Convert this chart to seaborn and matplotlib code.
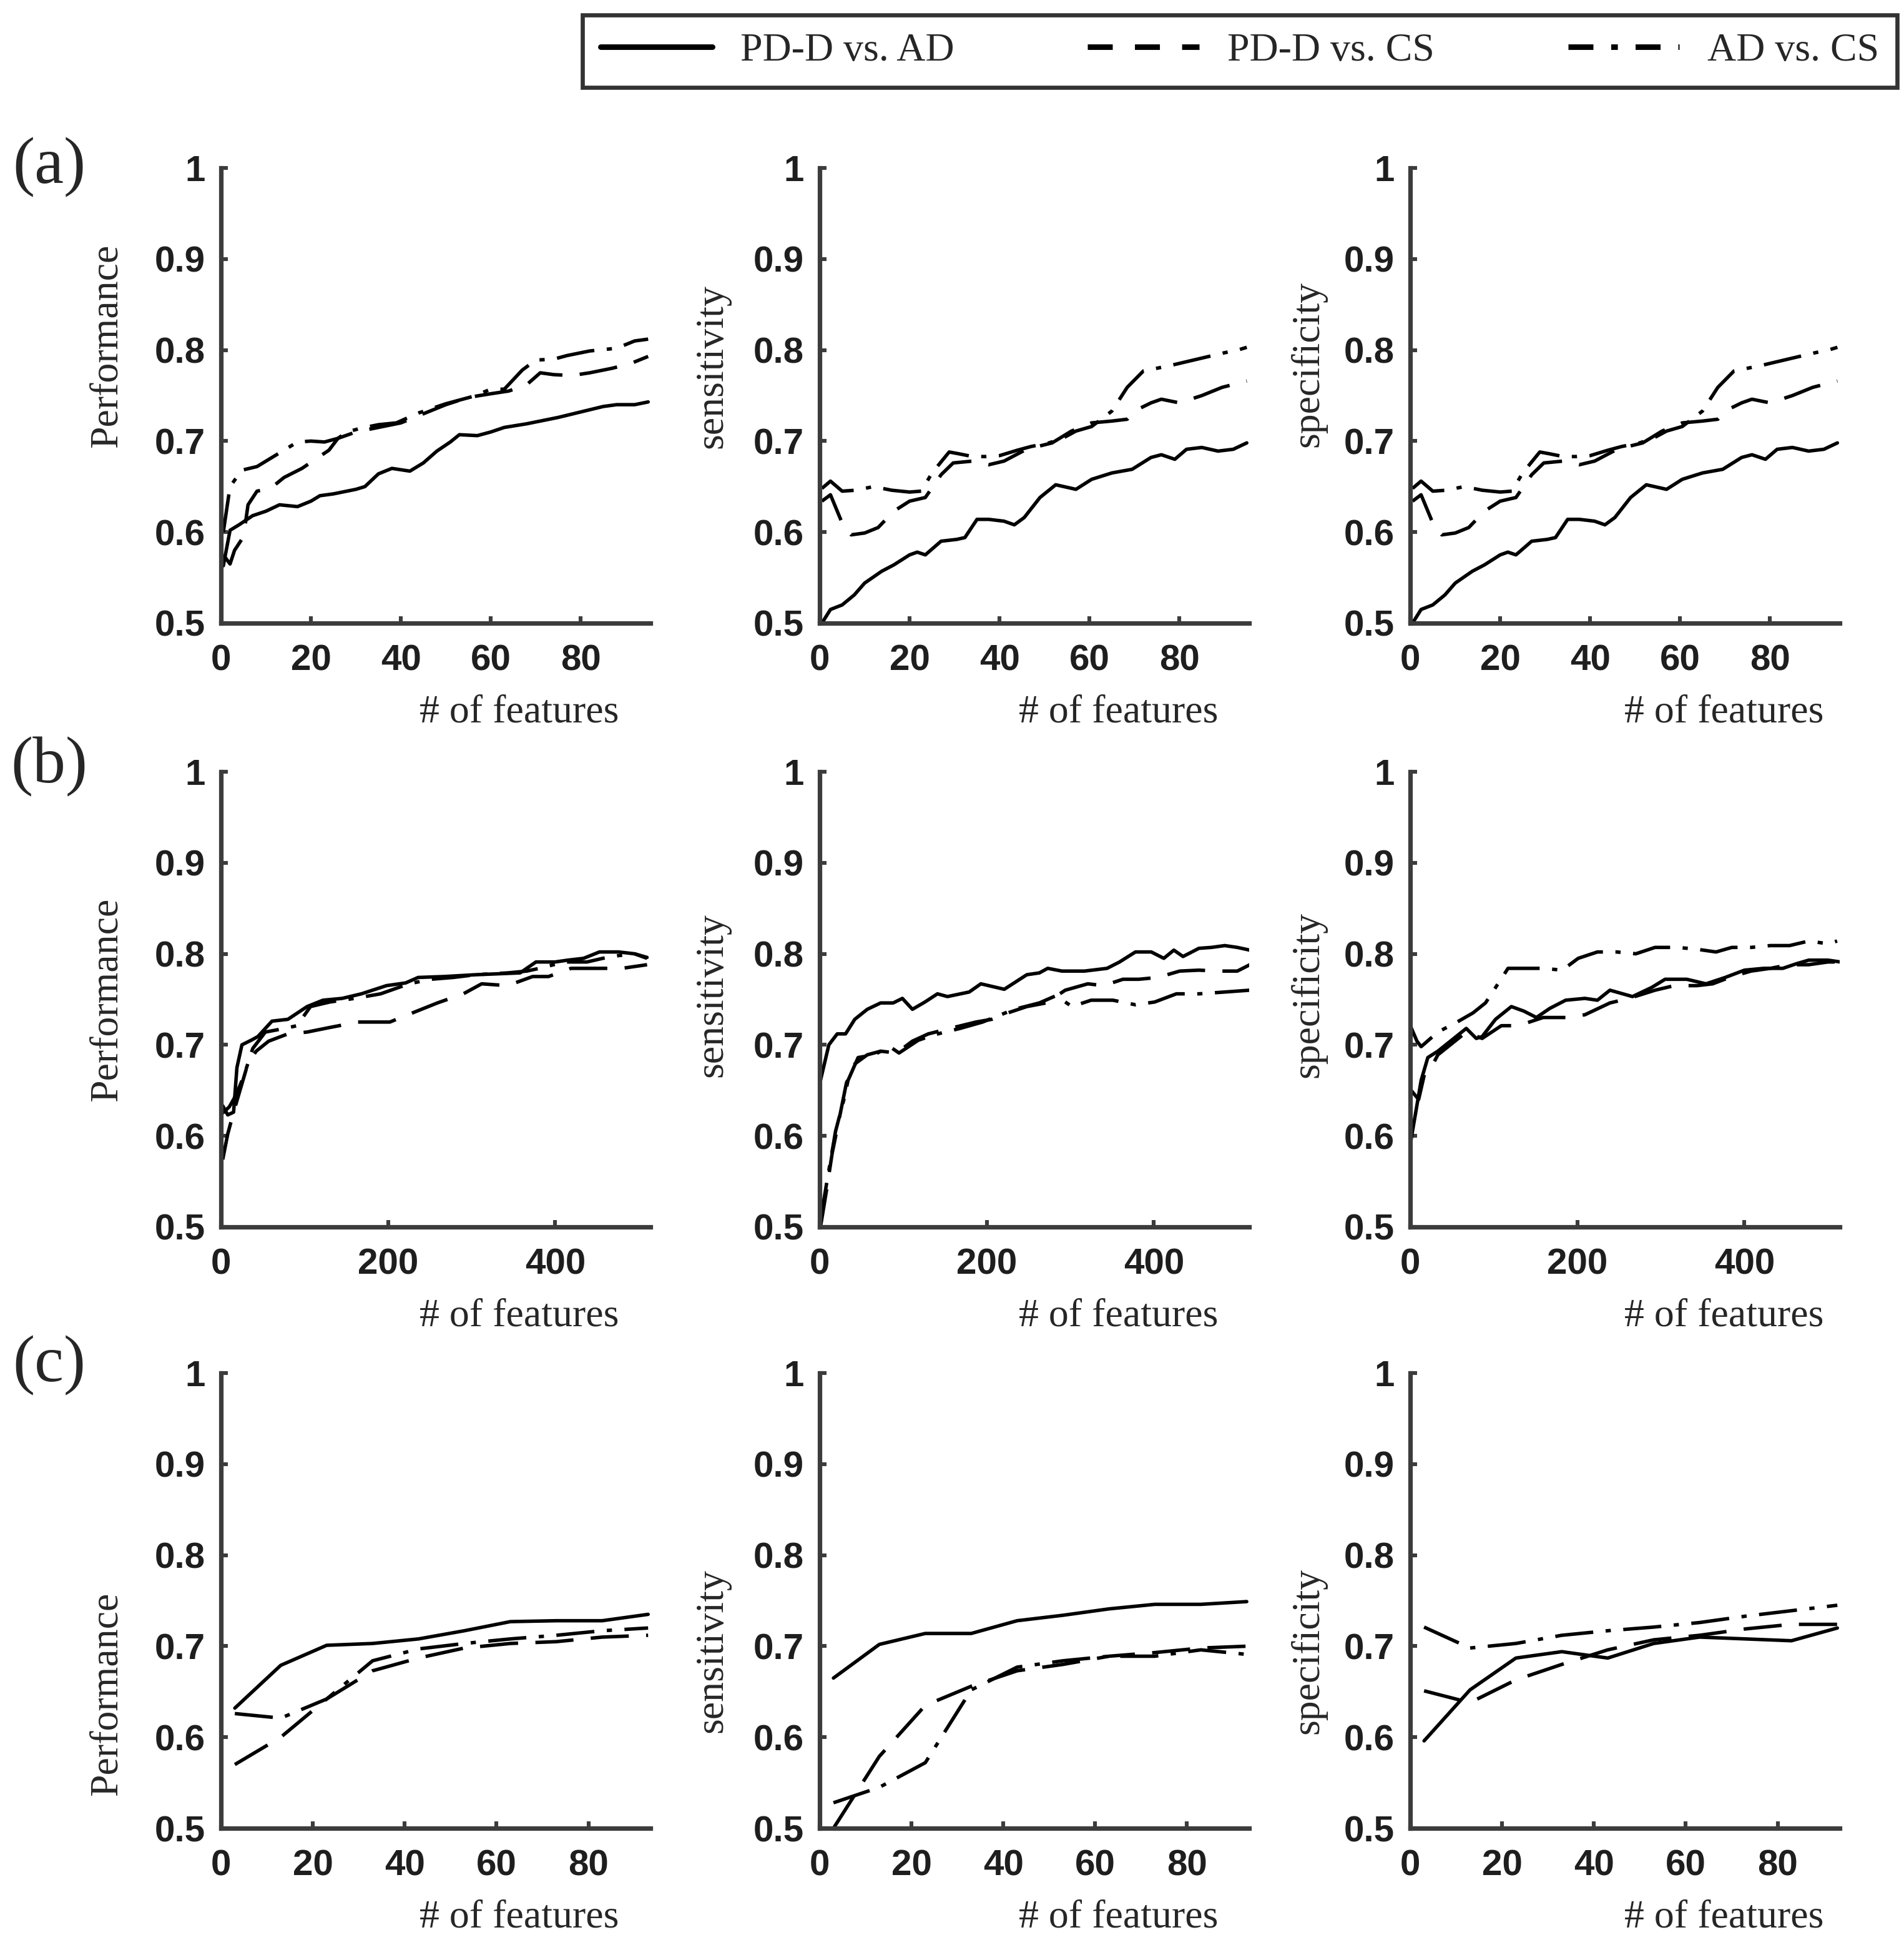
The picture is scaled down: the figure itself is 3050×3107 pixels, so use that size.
import matplotlib
matplotlib.use("Agg")
import matplotlib.pyplot as plt
from matplotlib.lines import Line2D
import pandas as pd
import seaborn as sns

PAIRS = ["PD-D vs. AD", "PD-D vs. CS", "AD vs. CS"]
METRICS = ["Performance", "sensitivity", "specificity"]

# -------------------------
# (a) values
# -------------------------
A_PERF_AD_X = [0.5, 2, 4, 7, 10, 13, 17, 20, 22, 25, 30, 32, 35, 38, 42, 45, 48, 51, 53, 57,
               60, 63, 68, 72, 75, 80, 85, 88, 92, 95]
A_PERF_AD_Y = [0.563, 0.602, 0.608, 0.618, 0.623, 0.630, 0.628, 0.634, 0.640, 0.642, 0.647,
               0.650, 0.664, 0.670, 0.667, 0.676, 0.689, 0.699, 0.707, 0.706, 0.710, 0.715,
               0.719, 0.723, 0.726, 0.732, 0.738, 0.740, 0.740, 0.743]
A_PERF_CS_X = [0.5, 2, 3, 5, 6, 8, 11, 14, 18, 21, 24, 26, 30, 35, 40, 45, 50, 55, 60, 64,
               68, 71, 74, 78, 82, 87, 91, 95]
A_PERF_CS_Y = [0.575, 0.565, 0.580, 0.595, 0.630, 0.645, 0.648, 0.660, 0.670, 0.680, 0.690,
               0.703, 0.710, 0.715, 0.720, 0.730, 0.740, 0.748, 0.752, 0.755, 0.762, 0.775,
               0.773, 0.772, 0.775, 0.780, 0.785, 0.793]
A_PERF_ADCS_X = [0.5, 2, 4.6, 8, 11, 14, 17, 20, 23, 26, 28, 31, 35, 39, 44, 50, 56, 60, 63,
                 67, 70, 74, 77, 82, 88, 92, 95]
A_PERF_ADCS_Y = [0.600, 0.650, 0.668, 0.672, 0.681, 0.690, 0.699, 0.700, 0.699, 0.703, 0.710,
                 0.714, 0.718, 0.720, 0.731, 0.741, 0.749, 0.757, 0.757, 0.778, 0.789, 0.790,
                 0.794, 0.799, 0.802, 0.810, 0.812]

A_SENS_AD_X = [0.5, 2.4, 5, 7.7, 10, 13.8, 16.5, 20, 21.7, 23.5, 27, 30.5, 32.3, 35, 37.6, 41,
               43.3, 45.5, 49, 52.5, 57, 60.5, 65, 69.5, 73.7, 76, 79, 81.6, 85, 88.6, 92, 95]
A_SENS_AD_Y = [0.500, 0.515, 0.520, 0.531, 0.544, 0.557, 0.564, 0.575, 0.578, 0.575, 0.590,
               0.592, 0.594, 0.614, 0.614, 0.612, 0.608, 0.616, 0.638, 0.652, 0.647, 0.658,
               0.665, 0.669, 0.682, 0.685, 0.680, 0.691, 0.693, 0.689, 0.691, 0.698]
A_SENS_CS_X = [0.5, 2.4, 5, 7, 10, 13, 16.5, 20, 23.5, 27, 29.7, 34, 37.6, 41, 46, 51.7, 56,
               60.5, 65, 68.4, 70, 73.7, 76, 80, 85, 89.5, 95]
A_SENS_CS_Y = [0.634, 0.641, 0.610, 0.597, 0.599, 0.605, 0.623, 0.634, 0.638, 0.663, 0.676,
               0.678, 0.674, 0.678, 0.691, 0.698, 0.711, 0.720, 0.722, 0.724, 0.733, 0.742,
               0.746, 0.742, 0.750, 0.759, 0.766]
A_SENS_ADCS_X = [0.5, 2.4, 5, 8, 12, 16, 20, 22.6, 25, 28.8, 31, 34, 37, 40, 44, 47, 51, 54,
                 57, 60.5, 65, 68.4, 72, 78, 84, 90, 93, 95]
A_SENS_ADCS_Y = [0.648, 0.656, 0.645, 0.646, 0.650, 0.646, 0.644, 0.645, 0.665, 0.688, 0.686,
                 0.683, 0.683, 0.684, 0.690, 0.694, 0.698, 0.703, 0.711, 0.716, 0.733, 0.759,
                 0.777, 0.783, 0.790, 0.797, 0.800, 0.803]

# specificity in (a) follows the same curves as sensitivity
A_SPEC_AD_X, A_SPEC_AD_Y = A_SENS_AD_X, A_SENS_AD_Y
A_SPEC_CS_X, A_SPEC_CS_Y = A_SENS_CS_X, A_SENS_CS_Y
A_SPEC_ADCS_X, A_SPEC_ADCS_Y = A_SENS_ADCS_X, A_SENS_ADCS_Y

# -------------------------
# (b)
# -------------------------
B_PERF_AD_X = [2, 8, 15, 19, 25, 36, 44, 61, 80, 103, 122, 145, 168, 198, 221, 236, 267, 305,
               358, 377, 400, 415, 434, 453, 476, 495, 510]
B_PERF_AD_Y = [0.633, 0.623, 0.626, 0.675, 0.700, 0.705, 0.709, 0.726, 0.728, 0.742, 0.749,
               0.751, 0.756, 0.765, 0.768, 0.774, 0.775, 0.777, 0.779, 0.791, 0.791, 0.793,
               0.795, 0.802, 0.802, 0.800, 0.796]
B_PERF_CS_X = [2, 8, 15, 23, 32, 42, 57, 80, 103, 130, 164, 202, 229, 259, 290, 312, 343, 373,
               392, 419, 450, 480, 510]
B_PERF_CS_Y = [0.574, 0.602, 0.626, 0.651, 0.679, 0.693, 0.704, 0.712, 0.714, 0.719, 0.725,
               0.725, 0.735, 0.746, 0.756, 0.767, 0.765, 0.775, 0.775, 0.784, 0.784, 0.784,
               0.788]
B_PERF_ADCS_X = [2, 10, 18, 27, 38, 53, 76, 91, 107, 130, 160, 191, 225, 251, 278, 305, 343,
                 366, 381, 411, 438, 457, 476, 495, 510]
B_PERF_ADCS_Y = [0.625, 0.632, 0.645, 0.665, 0.696, 0.714, 0.718, 0.721, 0.742, 0.747, 0.751,
                 0.756, 0.767, 0.772, 0.774, 0.777, 0.779, 0.781, 0.784, 0.791, 0.791, 0.795,
                 0.798, 0.800, 0.795]

B_SENS_AD_X = [1, 11, 21, 31, 42, 57, 73, 88, 99, 111, 126, 141, 153, 179, 193, 221, 248, 263,
               273, 290, 317, 344, 359, 378, 397, 412, 424, 435, 454, 469, 485, 500, 515]
B_SENS_AD_Y = [0.661, 0.700, 0.712, 0.712, 0.728, 0.739, 0.746, 0.746, 0.751, 0.739, 0.747,
               0.756, 0.753, 0.758, 0.767, 0.761, 0.777, 0.779, 0.784, 0.781, 0.781, 0.784,
               0.791, 0.802, 0.802, 0.795, 0.804, 0.797, 0.806, 0.807, 0.809, 0.807, 0.804]
B_SENS_CS_X = [1, 8, 15, 25, 32, 42, 57, 73, 92, 111, 130, 156, 187, 206, 225, 248, 271, 294,
               321, 340, 363, 382, 405, 431, 454, 477, 500, 515]
B_SENS_CS_Y = [0.500, 0.539, 0.581, 0.626, 0.658, 0.679, 0.689, 0.693, 0.691, 0.704, 0.712,
               0.718, 0.725, 0.728, 0.735, 0.742, 0.746, 0.760, 0.767, 0.765, 0.772, 0.772,
               0.774, 0.781, 0.782, 0.781, 0.781, 0.788]
B_SENS_ADCS_X = [1, 8, 19, 29, 34, 46, 65, 84, 95, 118, 137, 168, 195, 233, 263, 283, 302, 325,
                 351, 378, 401, 427, 454, 485, 515]
B_SENS_ADCS_Y = [0.507, 0.546, 0.605, 0.640, 0.661, 0.686, 0.689, 0.698, 0.691, 0.705, 0.711,
                 0.718, 0.725, 0.739, 0.746, 0.754, 0.742, 0.749, 0.749, 0.744, 0.747, 0.756,
                 0.756, 0.758, 0.760]

B_SPEC_AD_X = [0, 6, 13, 21, 33, 48, 67, 79, 86, 102, 121, 136, 151, 167, 186, 209, 224, 239,
               266, 289, 305, 331, 354, 377, 400, 423, 446, 462, 477, 500, 515]
B_SPEC_AD_Y = [0.591, 0.623, 0.661, 0.686, 0.693, 0.704, 0.718, 0.707, 0.709, 0.728, 0.742,
               0.737, 0.730, 0.740, 0.749, 0.751, 0.749, 0.760, 0.753, 0.763, 0.772, 0.772,
               0.767, 0.774, 0.782, 0.784, 0.784, 0.789, 0.793, 0.793, 0.791]
B_SPEC_CS_X = [0, 10, 17, 25, 33, 48, 67, 86, 109, 125, 136, 159, 186, 209, 239, 262, 293, 316,
               343, 362, 385, 408, 431, 454, 477, 500, 515]
B_SPEC_CS_Y = [0.651, 0.640, 0.668, 0.675, 0.689, 0.700, 0.714, 0.707, 0.721, 0.721, 0.723,
               0.730, 0.730, 0.733, 0.746, 0.751, 0.760, 0.765, 0.765, 0.767, 0.775, 0.781,
               0.784, 0.788, 0.788, 0.791, 0.791]
B_SPEC_ADCS_X = [0, 8, 13, 33, 56, 75, 90, 105, 117, 140, 159, 182, 201, 224, 247, 270, 293,
                 320, 343, 366, 385, 408, 431, 454, 477, 500, 511]
B_SPEC_ADCS_Y = [0.721, 0.704, 0.698, 0.714, 0.725, 0.735, 0.746, 0.767, 0.784, 0.784, 0.784,
                 0.782, 0.795, 0.802, 0.802, 0.800, 0.807, 0.807, 0.805, 0.802, 0.807, 0.807,
                 0.809, 0.809, 0.814, 0.811, 0.814]

# -------------------------
# (c)
# -------------------------
C_X = [3, 13, 23, 33, 43, 53, 63, 73, 83, 93]
C_PERF_AD_Y = [0.632, 0.679, 0.701, 0.703, 0.708, 0.717, 0.727, 0.728, 0.728, 0.735]
C_PERF_CS_Y = [0.570, 0.600, 0.642, 0.673, 0.687, 0.698, 0.703, 0.705, 0.710, 0.712]
C_PERF_ADCS_Y = [0.626, 0.621, 0.642, 0.684, 0.697, 0.703, 0.708, 0.712, 0.717, 0.720]
C_SENS_AD_Y = [0.665, 0.702, 0.714, 0.714, 0.728, 0.734, 0.741, 0.746, 0.746, 0.749]
C_SENS_CS_Y = [0.500, 0.579, 0.635, 0.656, 0.673, 0.680, 0.689, 0.693, 0.698, 0.700]
C_SENS_ADCS_Y = [0.528, 0.545, 0.572, 0.652, 0.677, 0.684, 0.689, 0.689, 0.696, 0.691]
C_SPEC_AD_Y = [0.596, 0.652, 0.687, 0.694, 0.687, 0.703, 0.710, 0.708, 0.706, 0.720]
C_SPEC_CS_Y = [0.651, 0.638, 0.663, 0.680, 0.696, 0.707, 0.712, 0.719, 0.724, 0.724]
C_SPEC_ADCS_Y = [0.721, 0.698, 0.703, 0.712, 0.717, 0.721, 0.726, 0.733, 0.739, 0.745]

YTICKS = [0.5, 0.6, 0.7, 0.8, 0.9, 1.0]
YTICK_LABELS = ["0.5", "0.6", "0.7", "0.8", "0.9", "1"]
ROW_XTICKS = [[0, 20, 40, 60, 80], [0, 200, 400], [0, 20, 40, 60, 80]]
ROW_XMAX = [95.5, 514, 93.5]
ROW_TAGS = ["(a)", "(b)", "(c)"]

PANELS = [
    [
        [(A_PERF_AD_X, A_PERF_AD_Y), (A_PERF_CS_X, A_PERF_CS_Y), (A_PERF_ADCS_X, A_PERF_ADCS_Y)],
        [(A_SENS_AD_X, A_SENS_AD_Y), (A_SENS_CS_X, A_SENS_CS_Y), (A_SENS_ADCS_X, A_SENS_ADCS_Y)],
        [(A_SPEC_AD_X, A_SPEC_AD_Y), (A_SPEC_CS_X, A_SPEC_CS_Y), (A_SPEC_ADCS_X, A_SPEC_ADCS_Y)],
    ],
    [
        [(B_PERF_AD_X, B_PERF_AD_Y), (B_PERF_CS_X, B_PERF_CS_Y), (B_PERF_ADCS_X, B_PERF_ADCS_Y)],
        [(B_SENS_AD_X, B_SENS_AD_Y), (B_SENS_CS_X, B_SENS_CS_Y), (B_SENS_ADCS_X, B_SENS_ADCS_Y)],
        [(B_SPEC_AD_X, B_SPEC_AD_Y), (B_SPEC_CS_X, B_SPEC_CS_Y), (B_SPEC_ADCS_X, B_SPEC_ADCS_Y)],
    ],
    [
        [(C_X, C_PERF_AD_Y), (C_X, C_PERF_CS_Y), (C_X, C_PERF_ADCS_Y)],
        [(C_X, C_SENS_AD_Y), (C_X, C_SENS_CS_Y), (C_X, C_SENS_ADCS_Y)],
        [(C_X, C_SPEC_AD_Y), (C_X, C_SPEC_CS_Y), (C_X, C_SPEC_ADCS_Y)],
    ],
]

# -------------------------
# Layout (figure fractions) and styling
# -------------------------
COL_LEFT = [0.1161, 0.4305, 0.7407]
ROW_BOTTOM = [0.6788, 0.3676, 0.0576]
AX_W, AX_H = 0.2255, 0.2346
YLAB_X = [-0.266, -0.25, -0.237]
YLAB_Y = [[0.61, 0.565, 0.57], [0.50, 0.51, 0.51], [0.295, 0.39, 0.39]]
XLAB_X = [0.695, 0.696, 0.73]
XLAB_Y = -0.197
TAG_Y = [0.9137, 0.6048, 0.296]

DASHES = {PAIRS[0]: "", PAIRS[1]: (11, 5), PAIRS[2]: (11, 3.6, 1.5, 3.6)}
SPINE = "#3c3c3c"
SERIF = ["Liberation Serif", "DejaVu Serif"]
SANS = ["Liberation Sans", "DejaVu Sans"]

sns.set_style("ticks")
plt.rcParams["font.family"] = SANS

fig = plt.figure(figsize=(15.25, 15.535), dpi=200)

for r in range(3):
    for c in range(3):
        ax = fig.add_axes([COL_LEFT[c], ROW_BOTTOM[r], AX_W, AX_H])
        frames = []
        for pair, (xs, ys) in zip(PAIRS, PANELS[r][c]):
            frames.append(pd.DataFrame({"n": xs, "score": ys, "pair": pair}))
        df = pd.concat(frames, ignore_index=True)
        sns.lineplot(data=df, x="n", y="score", style="pair", style_order=PAIRS,
                     dashes=DASHES, color="black", linewidth=2.0, estimator=None,
                     legend=False, ax=ax)

        ax.set_xlim(0, ROW_XMAX[r])
        ax.set_ylim(0.5, 1.0)
        ax.set_xticks(ROW_XTICKS[r])
        ax.set_yticks(YTICKS, labels=YTICK_LABELS)
        sns.despine(ax=ax)
        for side in ("left", "bottom"):
            ax.spines[side].set_linewidth(2.6)
            ax.spines[side].set_color(SPINE)
        ax.tick_params(direction="in", length=4, width=2.2, color=SPINE,
                       labelsize=21, labelcolor="#1e1e1e")
        ax.tick_params(axis="x", pad=12)
        ax.tick_params(axis="y", pad=9)
        for lab in ax.get_xticklabels() + ax.get_yticklabels():
            lab.set_fontweight("bold")

        ax.set_xlabel("# of features", fontsize=23, family=SERIF, va="center")
        ax.xaxis.set_label_coords(XLAB_X[c], XLAB_Y)
        ax.set_ylabel(METRICS[c], fontsize=23, family=SERIF, va="center")
        ax.yaxis.set_label_coords(YLAB_X[c], YLAB_Y[r][c])

    fig.text(0.026, TAG_Y[r], ROW_TAGS[r], ha="center", va="center",
             fontsize=38, family=SERIF)

# legend in its own box across the top
LEGEND_DASHES = {PAIRS[0]: "-", PAIRS[1]: (0, (4.5, 4.0)), PAIRS[2]: (0, (4.5, 3.2, 1.2, 3.2))}
handles = [Line2D([], [], color="black", linewidth=3.2, linestyle=LEGEND_DASHES[p])
           for p in PAIRS]
leg = fig.legend(handles, PAIRS, loc="lower left", ncol=3, mode="expand",
                 bbox_to_anchor=(0.306, 0.955, 0.6904, 0.0386),
                 prop={"family": SERIF, "size": 23}, handlelength=2.8,
                 handletextpad=0.7, borderaxespad=0, borderpad=0.45,
                 frameon=True, fancybox=False)
leg.get_frame().set_edgecolor("black")
leg.get_frame().set_linewidth(2.4)

fig.savefig("out.png", dpi=200)
